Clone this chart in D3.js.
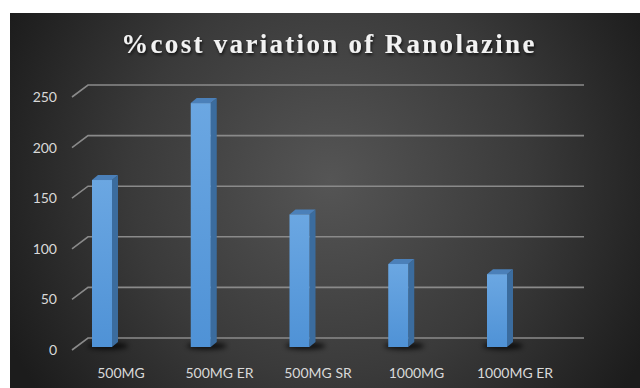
<!DOCTYPE html>
<html>
<head>
<meta charset="utf-8">
<script src="https://cdn.jsdelivr.net/npm/d3@7"></script>
<style>
  html, body { margin: 0; padding: 0; background: #ffffff; }
  svg { display: block; }
</style>
</head>
<body>
<svg id="chart" width="640" height="388"></svg>
<script>
// Ranolazine: percentage cost variation per formulation
const categories = ["500MG", "500MG ER", "500MG SR", "1000MG", "1000MG ER"];
const costVariation = [165, 241, 131, 82, 72];
const yTicks = [0, 50, 100, 150, 200, 250];
const titleText = "%cost variation of Ranolazine";

const svg = d3.select("#chart");
const W = 640, H = 388;

// panel geometry
const panel = { x: 10, y: 13, w: W - 10, h: H - 13 };
const wall = { left: 88, right: 584 };
const depth = { dx: -16, dy: 12 };      // back wall -> front edge of floor
const barDepth = { dx: 6, dy: -5 };     // bar front face -> bar back face
const barFrontShift = 9;                // bar front plane sits this far below the back wall baseline
const barWidth = 20;

const y = d3.scaleLinear().domain([0, 250]).range([338, 85]);
const xBar = d3.scalePoint().domain(categories).range([102, 497]);
const xLabel = d3.scalePoint().domain(categories).range([121, 515]);

const defs = svg.append("defs");

const bg = defs.append("radialGradient").attr("id", "bg")
  .attr("gradientUnits", "userSpaceOnUse")
  .attr("cx", 330).attr("cy", 180).attr("r", 360);
bg.append("stop").attr("offset", "0%").attr("stop-color", "#555555");
bg.append("stop").attr("offset", "55%").attr("stop-color", "#3a3a3a");
bg.append("stop").attr("offset", "100%").attr("stop-color", "#1c1c1c");

const front = defs.append("linearGradient").attr("id", "barFront")
  .attr("x1", 0).attr("y1", 0).attr("x2", 0).attr("y2", 1);
front.append("stop").attr("offset", "0%").attr("stop-color", "#6ba7e2");
front.append("stop").attr("offset", "100%").attr("stop-color", "#4f92d6");

const shadowBlur = defs.append("filter").attr("id", "shadowBlur")
  .attr("x", "-50%").attr("y", "-200%").attr("width", "200%").attr("height", "500%");
shadowBlur.append("feGaussianBlur").attr("stdDeviation", 2.5);

const glow = defs.append("filter").attr("id", "glow")
  .attr("x", "-10%").attr("y", "-50%").attr("width", "120%").attr("height", "200%");
glow.append("feGaussianBlur").attr("in", "SourceAlpha").attr("stdDeviation", 1.5).attr("result", "b");
glow.append("feOffset").attr("in", "b").attr("dx", 1).attr("dy", 1.5).attr("result", "o");
glow.append("feComponentTransfer").attr("in", "o").attr("result", "s")
  .append("feFuncA").attr("type", "linear").attr("slope", 0.7);
const gm = glow.append("feMerge");
gm.append("feMergeNode").attr("in", "s");
gm.append("feMergeNode").attr("in", "SourceGraphic");

// background panel
svg.append("rect")
  .attr("x", panel.x).attr("y", panel.y)
  .attr("width", panel.w).attr("height", panel.h)
  .attr("fill", "url(#bg)");

// title
svg.append("text")
  .attr("x", 329).attr("y", 53)
  .attr("text-anchor", "middle")
  .attr("font-family", "'Liberation Serif', 'Times New Roman', serif")
  .attr("font-weight", "bold")
  .attr("font-size", 27)
  .attr("letter-spacing", 2.3)
  .attr("fill", "#f2f2f2")
  .attr("filter", "url(#glow)")
  .text(titleText);

// gridlines: back wall line plus the slanted floor/side edge
const grid = svg.append("g").attr("stroke", "#8a8a8a").attr("stroke-width", 1.6).attr("fill", "none");
grid.selectAll("path").data(yTicks).join("path")
  .attr("d", v => {
    const yb = y(v);
    return `M${wall.left + depth.dx},${yb + depth.dy}L${wall.left},${yb}L${wall.right},${yb}`;
  });

// y tick labels
svg.append("g").selectAll("text").data(yTicks).join("text")
  .attr("x", 57).attr("y", v => y(v) + depth.dy)
  .attr("dy", "0.35em")
  .attr("text-anchor", "end")
  .attr("font-family", "Lato, 'Open Sans', sans-serif")
  .attr("font-size", 14)
  .attr("fill", "#d9d9d9")
  .text(d => d);

const data = categories.map((c, i) => ({ cat: c, value: costVariation[i] }));
const baseY = y(0) + barFrontShift;

// soft shadows on the floor
svg.append("g").selectAll("ellipse").data(data).join("ellipse")
  .attr("cx", d => xBar(d.cat) + 6)
  .attr("cy", baseY - 1)
  .attr("rx", 20).attr("ry", 3.5)
  .attr("fill", "#050505").attr("opacity", 0.75)
  .attr("filter", "url(#shadowBlur)");

// bars
const bars = svg.append("g").selectAll("g").data(data).join("g");
bars.append("path") // side face
  .attr("fill", "#3b6c9e")
  .attr("d", d => {
    const x1 = xBar(d.cat) + barWidth / 2, yt = y(d.value) + barFrontShift;
    return `M${x1},${yt}L${x1 + barDepth.dx},${yt + barDepth.dy}L${x1 + barDepth.dx},${baseY + barDepth.dy}L${x1},${baseY}Z`;
  });
bars.append("path") // top face
  .attr("fill", "#4b80b9")
  .attr("d", d => {
    const x0 = xBar(d.cat) - barWidth / 2, x1 = x0 + barWidth, yt = y(d.value) + barFrontShift;
    return `M${x0},${yt}L${x0 + barDepth.dx},${yt + barDepth.dy}L${x1 + barDepth.dx},${yt + barDepth.dy}L${x1},${yt}Z`;
  });
bars.append("rect") // front face
  .attr("x", d => xBar(d.cat) - barWidth / 2)
  .attr("y", d => y(d.value) + barFrontShift)
  .attr("width", barWidth)
  .attr("height", d => baseY - (y(d.value) + barFrontShift))
  .attr("fill", "url(#barFront)");

// category labels
svg.append("g").selectAll("text").data(categories).join("text")
  .attr("x", d => xLabel(d)).attr("y", 373)
  .attr("dy", "0.35em")
  .attr("text-anchor", "middle")
  .attr("font-family", "Lato, 'Open Sans', sans-serif")
  .attr("font-size", 14)
  .attr("fill", "#d9d9d9")
  .text(d => d);
</script>
</body>
</html>
